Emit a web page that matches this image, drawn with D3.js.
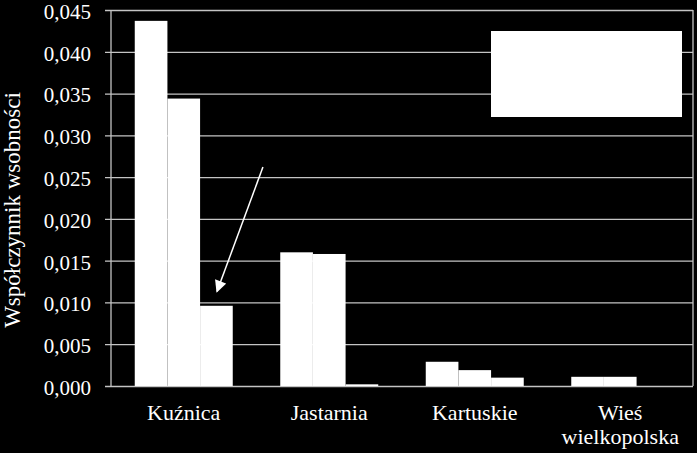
<!DOCTYPE html>
<html>
<head>
<meta charset="utf-8">
<script src="https://cdn.jsdelivr.net/npm/d3@7"></script>
<style>
  body { margin: 0; background: #000; }
  svg { display: block; }
  text { font-family: "Liberation Serif", "Tinos", "Noto Serif", "DejaVu Serif", "FreeSerif", Georgia, serif; fill: #fff; }
</style>
</head>
<body>
<script>
// data
const categories = ["Kuźnica", "Jastarnia", "Kartuskie", "Wieś wielkopolska"];
const series1 = [0.0437, 0.0160, 0.0029, 0.0011];
const series2 = [0.0344, 0.0158, 0.0019, 0.0011];
const series3 = [0.0096, 0.0002, 0.0010, 0.0000];
const yTicks = [0, 0.005, 0.01, 0.015, 0.02, 0.025, 0.03, 0.035, 0.04, 0.045];
const yTitle = "Współczynnik wsobności";

const width = 697, height = 453;
const margin = { top: 10, right: 4, bottom: 67, left: 111 };
const gridColor = "#c4c4c4";
const serif = '"Liberation Serif", "Tinos", "Noto Serif", "DejaVu Serif", "FreeSerif", Georgia, serif';

const svg = d3.select("body").append("svg")
    .attr("width", width)
    .attr("height", height);

svg.append("rect")
    .attr("width", width)
    .attr("height", height)
    .attr("fill", "#000");

const x = d3.scaleBand()
    .domain(categories)
    .range([margin.left, width - margin.right])
    .paddingInner(0.3265)
    .paddingOuter(0.3265 / 2);

const sub = d3.scaleBand()
    .domain([0, 1, 2])
    .range([0, x.bandwidth()]);

const y = d3.scaleLinear()
    .domain([0, 0.045])
    .range([height - margin.bottom, margin.top]);

const fmt = d => d3.format(".3f")(d).replace(".", ",");

// gridlines + y axis
const yAxis = svg.append("g")
    .attr("transform", `translate(${margin.left},0)`)
    .call(d3.axisLeft(y)
        .tickValues(yTicks)
        .tickFormat(fmt)
        .tickSize(-(width - margin.left - margin.right))
        .tickPadding(20));
yAxis.attr("font-family", serif);
yAxis.select(".domain").remove();
yAxis.selectAll(".tick line")
    .attr("stroke", gridColor)
    .attr("stroke-width", 1.3)
    .attr("x1", -6);
yAxis.selectAll(".tick text")
    .attr("fill", "#fff")
    .attr("dy", "0.4em")
    .style("font-size", "21px")
    .style("font-family", serif);

// plot area border (left axis and right edge)
svg.append("line")
    .attr("x1", margin.left).attr("x2", margin.left)
    .attr("y1", y(0.045)).attr("y2", y(0))
    .attr("stroke", gridColor).attr("stroke-width", 1.3);
svg.append("line")
    .attr("x1", width - margin.right).attr("x2", width - margin.right)
    .attr("y1", y(0.045)).attr("y2", y(0))
    .attr("stroke", gridColor).attr("stroke-width", 1.3);

// bars
const allSeries = [series1, series2, series3];
const barData = [];
categories.forEach((c, i) => {
    allSeries.forEach((s, k) => barData.push({ cat: c, k: k, v: s[i] }));
});

svg.append("g")
    .selectAll("rect")
    .data(barData.filter(d => d.v > 0))
    .enter()
    .append("rect")
    .attr("x", d => x(d.cat) + sub(d.k))
    .attr("y", d => y(d.v))
    .attr("width", sub.bandwidth())
    .attr("height", d => y(0) - y(d.v))
    .attr("fill", "#fff");

// category labels
const labels = svg.append("g");
categories.forEach(c => {
    const words = c === "Wieś wielkopolska" ? ["Wieś", "wielkopolska"] : [c];
    const cx = x(c) + x.bandwidth() / 2;
    const t = labels.append("text")
        .attr("y", 420)
        .attr("text-anchor", "middle")
        .style("font-size", "22px");
    words.forEach((w, j) => {
        t.append("tspan")
            .attr("x", cx)
            .attr("dy", j === 0 ? 0 : 24)
            .text(w);
    });
});

// y axis title
svg.append("text")
    .attr("transform", `translate(20,210) rotate(-90)`)
    .attr("text-anchor", "middle")
    .style("font-size", "23px")
    .text(yTitle);

// legend box (white, contents not visible)
svg.append("rect")
    .attr("x", 491)
    .attr("y", 31)
    .attr("width", 191)
    .attr("height", 86)
    .attr("fill", "#fff");

// arrow pointing to the third Kuźnica bar
const arrowFrom = { dx: 0.881, v: 0.0262 };
const arrowTo = { dx: 0.565, v: 0.0113 };
svg.append("defs").append("marker")
    .attr("id", "head")
    .attr("viewBox", "0 0 10 10")
    .attr("refX", 9).attr("refY", 5)
    .attr("markerWidth", 13).attr("markerHeight", 12)
    .attr("markerUnits", "userSpaceOnUse")
    .attr("orient", "auto")
    .append("path")
    .attr("d", "M0,0 L10,5 L0,10 Z")
    .attr("fill", "#fff");

svg.append("line")
    .attr("x1", x("Kuźnica") + x.step() * arrowFrom.dx)
    .attr("y1", y(arrowFrom.v))
    .attr("x2", x("Kuźnica") + x.step() * arrowTo.dx)
    .attr("y2", y(arrowTo.v))
    .attr("stroke", "#fff")
    .attr("stroke-width", 1.5)
    .attr("marker-end", "url(#head)");
</script>
</body>
</html>
